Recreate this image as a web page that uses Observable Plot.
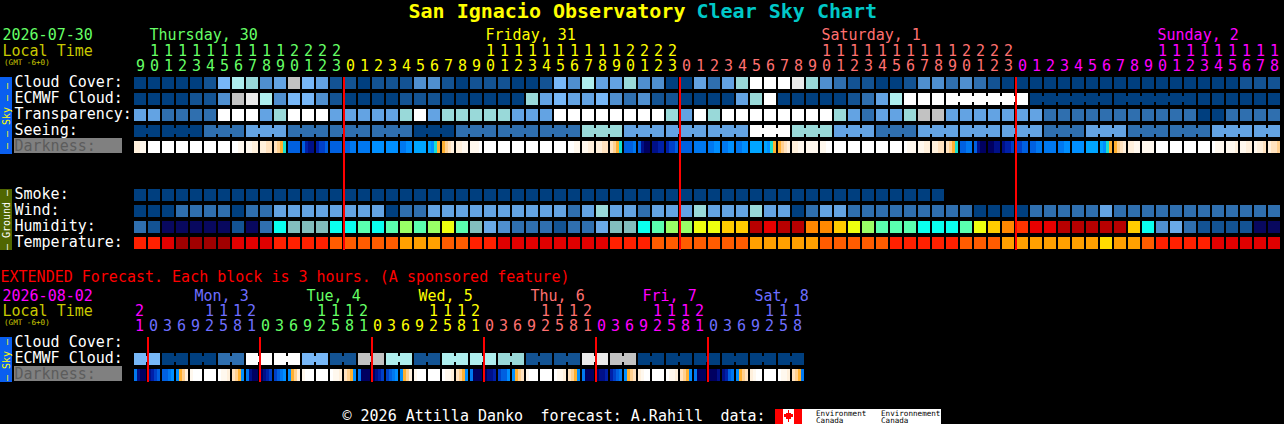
<!DOCTYPE html>
<html>
<head>
<meta charset="utf-8">
<title>San Ignacio Observatory Clear Sky Chart</title>
<script src="https://cdn.jsdelivr.net/npm/d3@7"></script>
<script src="https://cdn.jsdelivr.net/npm/@observablehq/plot@0.6"></script>
<style>html,body{margin:0;padding:0;background:#000;overflow:hidden}svg{display:block}</style>
</head>
<body>
<div id="chart"></div>
<script>
// ---- data ----
const cloudCover = [0,0,0,0,0,1,5,7,6,3,4,8,5,4,1,1,0,1,1,1,3,3,1,0,1,1,1,0,0,1,5,3,7,4,4,6,3,3,0,0,4,2,4,6,10,10,10,9,6,3,2,1,1,0,0,1,3,3,2,3,2,1,0,0,0,0,0,0,0,0,0,0,0,0,0,0,0,0,0,1,1,1];
const ecmwfCloud = [0,0,0,0,1,1,3,8,9,7,3,5,5,3,1,0,0,0,0,1,1,1,0,0,0,0,0,0,6,4,5,4,4,5,3,2,3,1,1,0,0,0,0,4,6,10,0,0,0,0,0,1,2,4,7,10,10,10,10,10,10,10,10,10,0,0,0,0,0,0,0,0,0,0,0,0,0,0,0,0,0,0];
const ecmwfGroups = [58,6,6,6];
const transparency = [4,4,2,2,2,2,10,10,10,4,6,10,10,10,4,4,4,4,4,6,10,4,6,6,6,6,6,4,4,4,10,10,10,10,10,10,10,10,6,4,10,6,10,10,10,10,10,10,10,10,6,4,2,4,4,6,8,8,4,4,4,4,4,4,4,2,2,2,2,2,2,2,2,2,2,2,0,0,2,2,2,2];
const seeingSizes = [2,3,3,3,3,3,3,3,3,3,3,3,3,3,3,3,3,3,3,3,3,3,3,3,3,3,3,2];
const seeingValues = [0,0,2,4,2,2,2,0,2,2,2,6,4,4,4,10,6,4,2,4,4,4,2,4,2,2,4,4];
const darkness = ["bbaa","WWWW","WWWW","WWWW","WWWW","WWWW","WWWW","WWaa","aabb","bbcc","cdef","4444","4677","6554","4444","4433","3333","2222","2222","3322","1111","12fe","edcb","bbaa","aaaW","WWWW","WWWW","WWWW","WWWW","WWWW","WWWW","WWaa","aabb","bbcc","cdef","4443","4788","7766","6554","4444","3333","3322","3322","3322","1111","12fe","edcb","bbaa","aaaa","aaWW","WWWW","WWWW","WWWW","WWWW","WWWW","Waaa","aabb","bbcc","cdef","4433","4788","8877","7665","5544","4433","3333","3322","2222","1111","12fe","edcb","bbaa","aaaa","WWWW","WWWW","WWWW","WWWW","Waaa","aaab","aabb","abbc","bccd"];
const smoke = [0,0,0,0,0,0,0,0,0,0,0,0,0,0,0,0,0,0,0,0,0,0,0,0,0,0,0,0,0,0,0,0,0,0,0,0,0,0,0,0,0,0,0,0,0,0,0,0,0,0,0,0,0,0,0,0,0,0];
const wind = [0,0,0,2,2,2,2,0,2,2,4,4,4,4,4,4,4,4,0,2,2,4,4,4,4,4,4,4,4,4,4,2,4,6,4,4,2,4,4,4,6,4,4,4,6,4,4,0,2,4,4,2,2,2,2,2,2,2,2,2,0,0,0,0,2,2,2,2,2,4,2,2,2,2,2,2,2,2,2,2,2,2];
const humidity = [2,1,0,0,0,0,0,1,0,2,6,5,5,5,6,6,7,6,7,8,7,8,9,7,5,4,3,2,2,2,1,2,2,4,5,5,6,7,8,8,9,9,10,10,14,13,14,14,11,11,10,9,8,7,7,7,6,6,6,7,9,10,11,12,13,13,14,14,14,14,14,10,6,3,4,2,1,1,1,1,0,0];
const temperature = [2,2,1,0,0,0,0,1,1,1,2,2,2,2,3,3,3,3,3,4,4,4,3,3,2,2,1,1,1,1,1,1,1,1,2,2,2,3,3,3,3,3,3,3,4,4,4,4,4,3,3,3,3,3,2,2,2,2,2,3,3,3,4,4,4,4,4,4,4,5,4,4,3,2,2,2,2,1,1,1,1,1];
const hours = [9,10,11,12,13,14,15,16,17,18,19,20,21,22,23,0,1,2,3,4,5,6,7,8,9,10,11,12,13,14,15,16,17,18,19,20,21,22,23,0,1,2,3,4,5,6,7,8,9,10,11,12,13,14,15,16,17,18,19,20,21,22,23,0,1,2,3,4,5,6,7,8,9,10,11,12,13,14,15,16,17,18];
const hourDay = [0,0,0,0,0,0,0,0,0,0,0,0,0,0,0,1,1,1,1,1,1,1,1,1,1,1,1,1,1,1,1,1,1,1,1,1,1,1,1,2,2,2,2,2,2,2,2,2,2,2,2,2,2,2,2,2,2,2,2,2,2,2,2,3,3,3,3,3,3,3,3,3,3,3,3,3,3,3,3,3,3,3];
const dayNames = ["Thursday, 30","Friday, 31","Saturday, 1","Sunday, 2"];
const dayStarts = [1,25,49,73];
const dayBreaks = [15,39,63];

const extCloud = [5,0,0,2,10,10,5,1,8,7,1,7,7,6,1,1,9,8,0,0,0,0,0,0];
const extDarkness = ["3788","7654","4432","2edb","aWWW","WWWW","Waab","cde2","3788","8765","5432","2edb","aWWW","WWWW","Waab","cde2","3888","8765","5432","2edb","aWWW","WWWW","Waab","cde2","3888","8776","5442","2edc","aWWW","WWWW","Waab","cde2","3888","8776","6543","2edc","baWW","WWWW","Waab","cde2","3888","8887","7643","2edc","baWW","WWWW","Waab","cde3"];
const extHours = [21,0,3,6,9,12,15,18,21,0,3,6,9,12,15,18,21,0,3,6,9,12,15,18,21,0,3,6,9,12,15,18,21,0,3,6,9,12,15,18,21,0,3,6,9,12,15,18];
const extDay = [0,1,1,1,1,1,1,1,1,2,2,2,2,2,2,2,2,3,3,3,3,3,3,3,3,4,4,4,4,4,4,4,4,5,5,5,5,5,5,5,5,6,6,6,6,6,6,6];
const extDayNames = ["Mon, 3","Tue, 4","Wed, 5","Thu, 6","Fri, 7","Sat, 8"];
const extDayStarts = [4,12,20,28,36,44];
const extBreaks = [1,9,17,25,33,41];

// ---- styles ----
const cloudPal = ["#003f7f","#135393","#2f6faf","#4f8fcf","#63a3e3","#77b7f7","#99d9d9","#aeeeee","#c2c2c2","#eaeaea","#ffffff"];
const humPal = ["#08085e","#135393","#2f6faf","#4f8fcf","#6aaae8","#82bebe","#0affef","#5affaf","#99ff66","#eeff0f","#ffcc00","#ff8800","#ff3300","#e80000","#b80000"];
const tempPal = ["#a00000","#e00000","#ff2000","#ff5c00","#ffa000","#ffdd00"];
const darkPal = {W:"#ffffff",a:"#fff8ee",b:"#fff0dc",c:"#ffe2bf",d:"#ffd090",e:"#ffb030",f:"#18e0d0",
  1:"#00a5ff",2:"#008fff",3:"#0078f0",4:"#0060e0",5:"#0040c8",6:"#0020a8",7:"#001088",8:"#000060"};
const mainDayColor = ["#66ff66","#ffff00","#ff7070","#ff00ff"];
const extDayColor = ["#ff00ff","#6e6eff","#66ff66","#ffff00","#ff7070","#ff00ff","#6e6eff"];

// ---- layout helpers: x in columns (14px), y in rows (16px) ----
const X = px => (px - 134) / 14, Y = px => (px - 77) / 16;
const W = 12 / 14, H = 12 / 16;
const rows = {cloud:0,ecmwf:1,transp:2,seeing:3,dark:4,smoke:7,wind:8,hum:9,temp:10};
const rExtE = Y(353), rExtD = Y(369);

const cell = (r,c,v,pal) => ({x1:c,x2:c+W,y1:r,y2:r+H,fill:pal[v]});
const rowCells = (r,vals,pal) => vals.map((v,c)=>cell(r,c,v,pal));
const neck = (r,c,fill) => ({x1:c+W,x2:c+1,y1:r+3/16,y2:r+9/16,fill});

const seeing = seeingSizes.flatMap((n,g)=>Array.from({length:n},()=>seeingValues[g]));
const cells = [
  ...rowCells(rows.cloud,cloudCover,cloudPal),
  ...rowCells(rows.ecmwf,ecmwfCloud,cloudPal),
  ...rowCells(rows.transp,transparency,cloudPal),
  ...rowCells(rows.seeing,seeing,cloudPal),
  ...rowCells(rows.smoke,smoke,cloudPal),
  ...rowCells(rows.wind,wind,cloudPal),
  ...rowCells(rows.hum,humidity,humPal),
  ...rowCells(rows.temp,temperature,tempPal)
];
// joined multi-hour blocks
let pos = 0;
seeingSizes.forEach((n,g)=>{for(let k=0;k<n-1;k++)cells.push(neck(rows.seeing,pos+k,cloudPal[seeingValues[g]]));pos+=n;});
pos = ecmwfGroups[0];
ecmwfGroups.slice(1).forEach(n=>{for(let k=0;k<n-1;k++)cells.push(neck(rows.ecmwf,pos+k,cloudPal[ecmwfCloud[pos+k]]));pos+=n;});
// extended cloud: two joined cells per block
extCloud.forEach((v,b)=>{
  cells.push(cell(rExtE,2*b,v,cloudPal),cell(rExtE,2*b+1,v,cloudPal),neck(rExtE,2*b,cloudPal[v]));
});
// darkness gradients: 4 slices per cell
const slices = (r,arr)=>arr.flatMap((s,c)=>[...s].map((ch,k)=>({x1:c+k*3/14,x2:c+(k+1)*3/14,y1:r,y2:r+H,fill:darkPal[ch]})));
cells.push(...slices(rows.dark,darkness),...slices(rExtD,extDarkness));

// red day separators
const redRects = [
  ...dayBreaks.map(c=>({x1:c-1/14,x2:c+1/14,y1:Y(77),y2:Y(250)})),
  ...extBreaks.map(c=>({x1:c-1/14,x2:c+1/14,y1:Y(337),y2:Y(382)}))
];
const panels = [
  {x1:X(0),x2:X(12),y1:Y(77),y2:Y(154),fill:"#0a5ff0"},
  {x1:X(0),x2:X(12),y1:Y(189),y2:Y(250),fill:"#506600"},
  {x1:X(0),x2:X(12),y1:Y(337),y2:Y(382),fill:"#0a5ff0"},
  {x1:X(14),x2:X(122),y1:Y(138),y2:Y(153),fill:"#808080"},
  {x1:X(14),x2:X(122),y1:Y(366),y2:Y(381),fill:"#808080"},
  // logo
  {x1:X(775),x2:X(941),y1:Y(409),y2:Y(424),fill:"#ffffff"},
  {x1:X(775),x2:X(783),y1:Y(409),y2:Y(424),fill:"#ff0000"},
  {x1:X(794),x2:X(802),y1:Y(409),y2:Y(424),fill:"#ff0000"},
  {x1:X(786),x2:X(791),y1:Y(413),y2:Y(419),fill:"#ff0000"},
  {x1:X(788),x2:X(789),y1:Y(410),y2:Y(422),fill:"#ff0000"},
  {x1:X(784),x2:X(793),y1:Y(414),y2:Y(417),fill:"#ff0000"}
];

// ---- texts ----
const T = (text,px,py,fill) => ({text,x:X(px),y:Y(py),fill});
const bodyTexts = [
  T("2026-07-30",2,35,"#66ff66"), T("Local Time",2,50.5,"#c8c800"),
  T("EXTENDED Forecast. Each block is 3 hours. (A sponsored feature)",0,276.5,"#ff0000"),
  T("2026-08-02",2,295.5,"#ff00ff"), T("Local Time",2,310.5,"#c8c800"),
  T("Cloud Cover:",14,81.5,"#ffffff"),T("ECMWF Cloud:",14,97.5,"#ffffff"),T("Transparency:",14,113.5,"#ffffff"),T("Seeing:",14,129.5,"#ffffff"),T("Darkness:",14,145.5,"#5c5c5c"),
  T("Smoke:",14,193.5,"#ffffff"),T("Wind:",14,209.5,"#ffffff"),T("Humidity:",14,225.5,"#ffffff"),T("Temperature:",14,241.5,"#ffffff"),
  T("Cloud Cover:",14,341.5,"#ffffff"),T("ECMWF Cloud:",14,357.5,"#ffffff"),T("Darkness:",14,373.5,"#5c5c5c"),
  T("© 2026 Attilla Danko",342,415.5,"#ffffff"),T("forecast: A.Rahill",540,415.5,"#ffffff"),T("data:",720,415.5,"#ffffff"),
  ...dayNames.map((d,k)=>({text:d,x:dayStarts[k]+1/14,y:Y(35),fill:mainDayColor[k]})),
  ...extDayNames.map((d,k)=>({text:d,x:extDayStarts[k]+4/14,y:Y(295.5),fill:extDayColor[k+1]}))
];
const gmtTexts = [T("(GMT -6+0)",3.5,62,"#c8c800"),T("(GMT -6+0)",3.5,322,"#c8c800")];
const title = [
  T("San Ignacio Observatory",408,11.5,"#ffff00"),
  T("Clear Sky Chart",696,11.5,"#00c8c8")
];
const logoTexts = [
  T("Environment",815.5,413,"#000000"),T("Canada",815.5,420.5,"#000000"),
  T("Environnement",880.5,413,"#000000"),T("Canada",880.5,420.5,"#000000")
];
const digits = [
  ...hours.flatMap((h,c)=>[
    {text:String(h%10),x:c+6/14,y:Y(65.5),fill:mainDayColor[hourDay[c]]},
    ...(h>=10?[{text:String(Math.floor(h/10)),x:c+6/14,y:Y(50.5),fill:mainDayColor[hourDay[c]]}]:[])
  ]),
  ...extHours.flatMap((h,c)=>[
    {text:String(h%10),x:c+5/14,y:Y(325.5),fill:extDayColor[extDay[c]]},
    ...(h>=10?[{text:String(Math.floor(h/10)),x:c+5/14,y:Y(310.5),fill:extDayColor[extDay[c]]}]:[])
  ])
];
const sideTexts = [
  {text:"— — Sky — —",x:X(6),y:Y(115.5),fill:"#ffff00"},
  {text:"— Ground —",x:X(6),y:Y(219.5),fill:"#ffffff"},
  {text:"— Sky —",x:X(6),y:Y(359.5),fill:"#ffff00"}
];

const FONT = "DejaVu Sans Mono";
const rect = (d)=>Plot.rect(d,{x1:"x1",x2:"x2",y1:"y1",y2:"y2",fill:"fill",shapeRendering:"crispEdges"});
const txt = (d,fontSize,extra={})=>Plot.text(d,{x:"x",y:"y",text:"text",fill:"fill",fontSize,textAnchor:"start",lineAnchor:"middle",fontFamily:FONT,...extra});
const chart = Plot.plot({
  width:1284,height:424,margin:0,
  style:{background:"#000",display:"block"},
  x:{domain:[X(0),X(1284)],range:[0,1284],axis:null},
  y:{domain:[Y(0),Y(424)],range:[0,424],axis:null},
  color:{type:"identity"},
  marks:[
    rect(panels),
    rect(cells),
    Plot.rect(redRects,{x1:"x1",x2:"x2",y1:"y1",y2:"y2",fill:"#ff0000",shapeRendering:"crispEdges"}),
    txt(bodyTexts,15),
    txt(gmtTexts,7.6),
    txt(logoTexts,7.6),
    txt(title,20,{fontWeight:"bold"}),
    txt(digits,15,{textAnchor:"middle"}),
    txt(sideTexts,10,{rotate:-90,textAnchor:"middle"})
  ]
});
document.getElementById("chart").appendChild(chart);
</script>
</body>
</html>
